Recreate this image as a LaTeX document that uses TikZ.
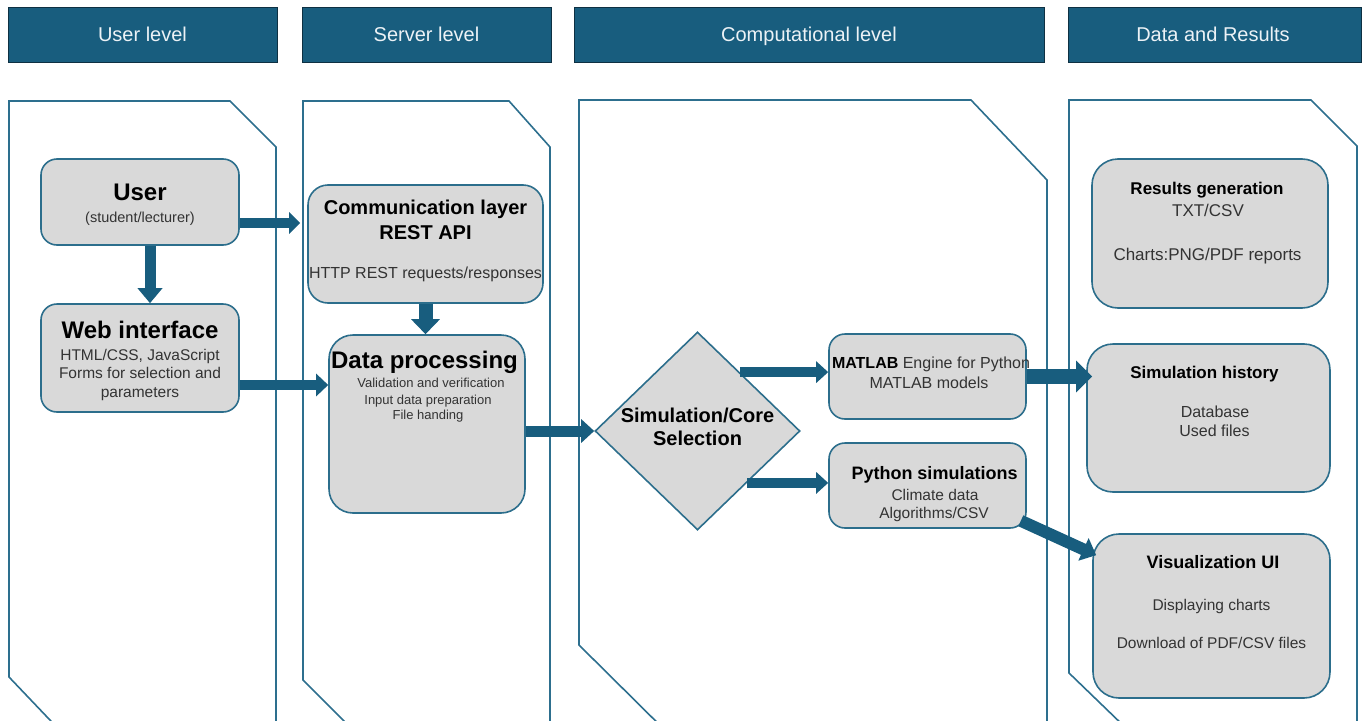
\documentclass[tikz,border=0pt]{standalone}
\usepackage{fontspec}
\setmainfont{Liberation Sans}
\usetikzlibrary{arrows.meta,shapes.geometric,calc}
\definecolor{hdrc}{RGB}{24,93,126}
\definecolor{hdrline}{RGB}{14,48,66}
\definecolor{lanec}{RGB}{45,111,142}
\definecolor{boxc}{RGB}{217,217,217}
\definecolor{boxline}{RGB}{44,110,140}
\definecolor{arrc}{RGB}{24,93,126}
\definecolor{bodyc}{RGB}{51,51,51}
\definecolor{hdrtext}{RGB}{236,242,246}
\newcommand\fsz[1]{\fontsize{#1}{#1}\selectfont}
\begin{document}
\begin{tikzpicture}[x=1pt,y=-1pt,
  hdr/.style={draw=hdrline,line width=1pt,fill=hdrc,text=hdrtext,font=\fsz{20},inner sep=0pt},
  lane/.style={draw=lanec,line width=1.6pt,line join=miter},
  box/.style={draw=boxline,line width=1.6pt,fill=boxc,rounded corners=#1,inner sep=0pt},
  box/.default=16pt,
  ttl/.style={anchor=base,text=black,font=\fsz{#1}\bfseries,inner sep=0pt},
  txt/.style={anchor=base,text=bodyc,font=\fsz{#1},inner sep=0pt},
  barrow/.style n args={3}{draw=arrc,line width=#1,-{Triangle[length=#2,width=#3]}}
]
\useasboundingbox (0,0) rectangle (1365,720);
\clip (0,0) rectangle (1365,720);

% column headers
\node[hdr,minimum width=269pt,minimum height=55pt] (hUser) at (142.5,34.5) {};
\node[hdr,minimum width=249pt,minimum height=55pt] (hServer) at (426.5,34.5) {};
\node[hdr,minimum width=470pt,minimum height=55pt] (hComp) at (809,34.5) {};
\node[hdr,minimum width=293pt,minimum height=55pt] (hData) at (1214.5,34.5) {};
\node[anchor=base,text=hdrtext,font=\fsz{20}] (hUserT) at (142.5,41.7) {User level};
\node[anchor=base,text=hdrtext,font=\fsz{20}] (hServerT) at (426.5,41.7) {Server level};
\node[anchor=base,text=hdrtext,font=\fsz{20}] (hCompT) at (809,41.7) {Computational level};
\node[anchor=base,text=hdrtext,font=\fsz{20}] (hDataT) at (1213,41.7) {Data and Results};

% swimlanes with cut corners
\draw[lane] (9,101) -- (230,101) -- (276,147) -- (276,760) -- (88,760) -- (9,677) -- cycle;
\draw[lane] (303,101) -- (509,101) -- (550,147) -- (550,760) -- (383,760) -- (303,680) -- cycle;
\draw[lane] (579,100) -- (971,100) -- (1047,180) -- (1047,760) -- (695,760) -- (579,645) -- cycle;
\draw[lane] (1069,100) -- (1311,100) -- (1357,146) -- (1357,760) -- (1159,760) -- (1069,673) -- cycle;

% boxes
\node[box,minimum width=198pt,minimum height=86pt] (User) at (140,202) {};
\node[box,minimum width=198pt,minimum height=108pt] (Web) at (140,358) {};
\node[box=20pt,minimum width=235pt,minimum height=118pt] (Comm) at (425.5,244) {};
\node[box=24pt,minimum width=196pt,minimum height=178pt] (Data) at (427,424) {};
\node[diamond,draw=boxline,line width=1.6pt,fill=boxc,inner sep=0pt,
      minimum width=205pt,minimum height=198pt] (Dia) at (697.5,431) {};
\node[box,minimum width=197pt,minimum height=85pt] (Mat) at (927.5,376.5) {};
\node[box,minimum width=197pt,minimum height=85pt] (Py) at (927.5,485.5) {};
\node[box=26pt,minimum width=236pt,minimum height=149pt] (Res) at (1210,233.5) {};
\node[box=26pt,minimum width=243pt,minimum height=148pt] (Hist) at (1208.5,418) {};
\node[box=26pt,minimum width=237pt,minimum height=164pt] (Vis) at (1211.5,616) {};

% box texts
\node[ttl=24] (UserT) at (140,200.6) {User};
\node[txt=14.5] (UserS) at (140,222.2) {(student/lecturer)};
\node[ttl=24] (WebT) at (140,338.6) {Web interface};
\node[txt=15.5] (WebA) at (140,360.6) {HTML/CSS, JavaScript};
\node[txt=15.5] (WebB) at (140,378.6) {Forms for selection and};
\node[txt=15.5] (WebC) at (140,397) {parameters};
\node[ttl=20] (CommT) at (425.5,214.2) {Communication layer};
\node[ttl=20] (CommU) at (425.5,239.2) {REST API};
\node[txt=16] (CommS) at (425.5,278.8) {HTTP REST requests/responses};
\node[ttl=24] (DataT) at (424.5,368.6) {Data processing};
\node[txt=13] (DataA) at (431,387.7) {Validation and verification};
\node[txt=13] (DataB) at (428,404.7) {Input data preparation};
\node[txt=13] (DataC) at (428,419.7) {File handing};
\node[ttl=20] (DiaT) at (697.5,422.2) {Simulation/Core};
\node[ttl=20] (DiaU) at (697.5,445.2) {Selection};
\node[txt=16] (MatA) at (931,368.8) {\textbf{\color{black}MATLAB} Engine for Python};
\node[txt=16] (MatB) at (929,388.8) {MATLAB models};
\node[ttl=18] (PyT) at (934.5,479.5) {Python simulations};
\node[txt=15.5] (PyA) at (935,500.6) {Climate data};
\node[txt=15.5] (PyB) at (934,518.6) {Algorithms/CSV};
\node[ttl=17] (ResT) at (1207,194.1) {Results generation};
\node[txt=17] (ResA) at (1208,216.1) {TXT/CSV};
\node[txt=17] (ResB) at (1207.5,260.1) {Charts:PNG/PDF reports};
\node[ttl=17] (HistT) at (1204.5,378.1) {Simulation history};
\node[txt=16] (HistA) at (1215,417.8) {Database};
\node[txt=16] (HistB) at (1214.5,436.8) {Used files};
\node[ttl=18] (VisT) at (1213,568.5) {Visualization UI};
\node[txt=15.5] (VisA) at (1211.5,610.6) {Displaying charts};
\node[txt=15.5] (VisB) at (1211.5,648.6) {Download of PDF/CSV files};

% connectors
\draw[barrow={11pt}{15pt}{24pt}] ([xshift=10pt]User.south) -- ([xshift=10pt]Web.north);
\draw[barrow={10pt}{11pt}{21pt},shorten >=7pt] ([yshift=-21pt]User.east) -- ([yshift=-21pt]User.east -| Comm.west);
\draw[barrow={14pt}{15pt}{28pt}] (Comm.south) -- (Comm.south |- Data.north);
\draw[barrow={10pt}{12pt}{22pt}] ([yshift=-27pt]Web.east) -- ([yshift=-27pt]Web.east -| Data.west);
\draw[barrow={11pt}{13pt}{23pt}] (Dia.west -| Data.east) -- (Dia.west);
\coordinate (dm) at ($(Dia.north)!0.41!(Dia.east)$);
\coordinate (dp) at ($(Dia.east)!0.52!(Dia.south)$);
\draw[barrow={10pt}{12pt}{21pt}] (dm) -- (dm -| Mat.west);
\draw[barrow={10pt}{12pt}{21pt}] (dp) -- (dp -| Py.west);
\draw[barrow={15pt}{16pt}{31pt},shorten >=-6pt] (Mat.east) -- (Mat.east -| Hist.west);
\draw[barrow={12pt}{14pt}{24pt}] ([xshift=-6pt,yshift=8pt]Py.south east) -- ([xshift=4pt,yshift=-22pt]Vis.north west);
\end{tikzpicture}
\end{document}
